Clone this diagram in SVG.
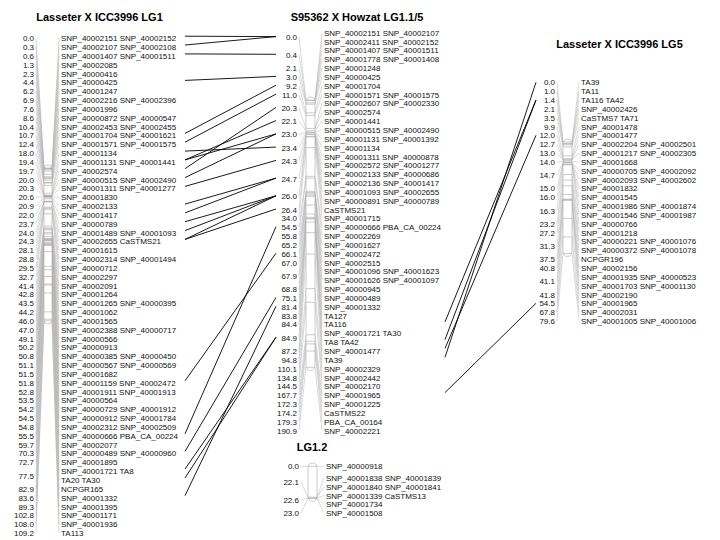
<svg xmlns="http://www.w3.org/2000/svg" width="720" height="540" viewBox="0 0 720 540">
<style>
text{font-family:"Liberation Sans",Arial,sans-serif;font-size:8px;fill:#111}
.p{text-anchor:end}
.h{font-weight:bold;font-size:11px;text-anchor:middle;fill:#000}
.fan{stroke:#b4b4b4;stroke-width:0.5;fill:none}
.bar{stroke:#aaaaaa;stroke-width:0.6;fill:#fff}
.tick{stroke:#999999;stroke-width:0.5;fill:none}
.conn{stroke:#000;stroke-width:0.9;fill:none}
</style>
<rect width="720" height="540" fill="#fff"/>

<g id="lg1-lasseter">
<text class="h" x="99.5" y="21">Lasseter X ICC3996 LG1</text>
<path class="fan" d="M36 38.2L44 168M36 47L44 168.4M36 55.9L44 168.8M36 64.7L44 169.8M36 73.5L44 171.2M36 82.4L44 174.2M36 91.2L44 176.7M36 100L44 177.7M36 108.9L44 178.6M36 117.7L44 180M36 126.6L44 182.6M36 135.4L44 183M36 144.2L44 185.4M36 153.1L44 193.2M36 161.9L44 195.2M36 170.7L44 195.6M36 179.6L44 196M36 188.4L44 196.4M36 197.2L44 196.8M36 206.1L44 197.3M36 214.9L44 198.8M36 223.7L44 201.2M36 232.6L44 201.6M36 241.4L44 202M36 250.2L44 207.3M36 259.1L44 208.3M36 267.9L44 209.3M36 276.7L44 213.8M36 285.6L44 226M36 294.4L44 227.9M36 303.3L44 228.9M36 312.1L44 229.9M36 320.9L44 232.4M36 329.8L44 233.8M36 338.6L44 236.7M36 347.4L44 238.3M36 356.3L44 239.1M36 365.1L44 239.5M36 373.9L44 240.1M36 382.8L44 240.5M36 391.6L44 241.9M36 400.4L44 242.9M36 409.3L44 243.9M36 418.1L44 244.3M36 426.9L44 244.7M36 435.8L44 245.7M36 444.6L44 251.6M36 453.4L44 266.4M36 462.3L44 269.8M36 475.6L44 276.5M36 488.8L44 284.1M36 497.6L44 285M36 506.5L44 293M36 515.3L44 311.9M36 524.1L44 319.2M36 533L44 320.9"/>
<path class="fan" d="M52 168L59 38.2M52 168.4L59 47M52 168.8L59 55.9M52 169.8L59 64.7M52 171.2L59 73.5M52 174.2L59 82.4M52 176.7L59 91.2M52 177.7L59 100M52 178.6L59 108.9M52 180L59 117.7M52 182.6L59 126.6M52 183L59 135.4M52 185.4L59 144.2M52 193.2L59 153.1M52 195.2L59 161.9M52 195.6L59 170.7M52 196L59 179.6M52 196.4L59 188.4M52 196.8L59 197.2M52 197.3L59 206.1M52 198.8L59 214.9M52 201.2L59 223.7M52 201.6L59 232.6M52 202L59 241.4M52 207.3L59 250.2M52 208.3L59 259.1M52 209.3L59 267.9M52 213.8L59 276.7M52 226L59 285.6M52 227.9L59 294.4M52 228.9L59 303.3M52 229.9L59 312.1M52 232.4L59 320.9M52 233.8L59 329.8M52 236.7L59 338.6M52 238.3L59 347.4M52 239.1L59 356.3M52 239.5L59 365.1M52 240.1L59 373.9M52 240.5L59 382.8M52 241.9L59 391.6M52 242.9L59 400.4M52 243.9L59 409.3M52 244.3L59 418.1M52 244.7L59 426.9M52 245.7L59 435.8M52 251.6L59 444.6M52 266.4L59 453.4M52 269.8L59 462.3M52 276.5L59 471.1M52 276.5L59 480M52 284.1L59 488.8M52 285L59 497.6M52 293L59 506.5M52 311.9L59 515.3M52 319.2L59 524.1M52 320.9L59 533"/>
<rect class="bar" x="44" y="165" width="8" height="159" rx="4"/>
<path class="tick" d="M44 168H52M44 168.4H52M44 168.8H52M44 169.8H52M44 171.2H52M44 174.2H52M44 176.7H52M44 177.7H52M44 178.6H52M44 180H52M44 182.6H52M44 183H52M44 185.4H52M44 193.2H52M44 195.2H52M44 195.6H52M44 196H52M44 196.4H52M44 196.8H52M44 197.3H52M44 198.8H52M44 201.2H52M44 201.6H52M44 202H52M44 207.3H52M44 208.3H52M44 209.3H52M44 213.8H52M44 226H52M44 227.9H52M44 228.9H52M44 229.9H52M44 232.4H52M44 233.8H52M44 236.7H52M44 238.3H52M44 239.1H52M44 239.5H52M44 240.1H52M44 240.5H52M44 241.9H52M44 242.9H52M44 243.9H52M44 244.3H52M44 244.7H52M44 245.7H52M44 251.6H52M44 266.4H52M44 269.8H52M44 276.5H52M44 284.1H52M44 285H52M44 293H52M44 311.9H52M44 319.2H52M44 320.9H52"/>
<text class="p" x="34" y="41.2">0.0</text>
<text class="p" x="34" y="50">0.3</text>
<text class="p" x="34" y="58.9">0.6</text>
<text class="p" x="34" y="67.7">1.3</text>
<text class="p" x="34" y="76.5">2.3</text>
<text class="p" x="34" y="85.4">4.4</text>
<text class="p" x="34" y="94.2">6.2</text>
<text class="p" x="34" y="103">6.9</text>
<text class="p" x="34" y="111.9">7.6</text>
<text class="p" x="34" y="120.7">8.6</text>
<text class="p" x="34" y="129.6">10.4</text>
<text class="p" x="34" y="138.4">10.7</text>
<text class="p" x="34" y="147.2">12.4</text>
<text class="p" x="34" y="156.1">18.0</text>
<text class="p" x="34" y="164.9">19.4</text>
<text class="p" x="34" y="173.7">19.7</text>
<text class="p" x="34" y="182.6">20.0</text>
<text class="p" x="34" y="191.4">20.3</text>
<text class="p" x="34" y="200.2">20.6</text>
<text class="p" x="34" y="209.1">20.9</text>
<text class="p" x="34" y="217.9">22.0</text>
<text class="p" x="34" y="226.7">23.7</text>
<text class="p" x="34" y="235.6">24.0</text>
<text class="p" x="34" y="244.4">24.3</text>
<text class="p" x="34" y="253.2">28.1</text>
<text class="p" x="34" y="262.1">28.8</text>
<text class="p" x="34" y="270.9">29.5</text>
<text class="p" x="34" y="279.7">32.7</text>
<text class="p" x="34" y="288.6">41.4</text>
<text class="p" x="34" y="297.4">42.8</text>
<text class="p" x="34" y="306.3">43.5</text>
<text class="p" x="34" y="315.1">44.2</text>
<text class="p" x="34" y="323.9">46.0</text>
<text class="p" x="34" y="332.8">47.0</text>
<text class="p" x="34" y="341.6">49.1</text>
<text class="p" x="34" y="350.4">50.2</text>
<text class="p" x="34" y="359.3">50.8</text>
<text class="p" x="34" y="368.1">51.1</text>
<text class="p" x="34" y="376.9">51.5</text>
<text class="p" x="34" y="385.8">51.8</text>
<text class="p" x="34" y="394.6">52.8</text>
<text class="p" x="34" y="403.4">53.5</text>
<text class="p" x="34" y="412.3">54.2</text>
<text class="p" x="34" y="421.1">54.5</text>
<text class="p" x="34" y="429.9">54.8</text>
<text class="p" x="34" y="438.8">55.5</text>
<text class="p" x="34" y="447.6">59.7</text>
<text class="p" x="34" y="456.4">70.3</text>
<text class="p" x="34" y="465.3">72.7</text>
<text class="p" x="34" y="478.6">77.5</text>
<text class="p" x="34" y="491.8">82.9</text>
<text class="p" x="34" y="500.6">83.6</text>
<text class="p" x="34" y="509.5">89.3</text>
<text class="p" x="34" y="518.3">102.8</text>
<text class="p" x="34" y="527.1">108.0</text>
<text class="p" x="34" y="536">109.2</text>
<text x="61" y="41.2">SNP_40002151 SNP_40002152</text>
<text x="61" y="50">SNP_40002107 SNP_40002108</text>
<text x="61" y="58.9">SNP_40001407 SNP_40001511</text>
<text x="61" y="67.7">SNP_40002085</text>
<text x="61" y="76.5">SNP_40000416</text>
<text x="61" y="85.4">SNP_40000425</text>
<text x="61" y="94.2">SNP_40001247</text>
<text x="61" y="103">SNP_40002216 SNP_40002396</text>
<text x="61" y="111.9">SNP_40001996</text>
<text x="61" y="120.7">SNP_40000872 SNP_40000547</text>
<text x="61" y="129.6">SNP_40002453 SNP_40002455</text>
<text x="61" y="138.4">SNP_40001704 SNP_40001621</text>
<text x="61" y="147.2">SNP_40001571 SNP_40001575</text>
<text x="61" y="156.1">SNP_40001134</text>
<text x="61" y="164.9">SNP_40001131 SNP_40001441</text>
<text x="61" y="173.7">SNP_40002574</text>
<text x="61" y="182.6">SNP_40000515 SNP_40002490</text>
<text x="61" y="191.4">SNP_40001311 SNP_40001277</text>
<text x="61" y="200.2">SNP_40001830</text>
<text x="61" y="209.1">SNP_40002133</text>
<text x="61" y="217.9">SNP_40001417</text>
<text x="61" y="226.7">SNP_40000789</text>
<text x="61" y="235.6">SNP_40001489 SNP_40001093</text>
<text x="61" y="244.4">SNP_40002655 CaSTMS21</text>
<text x="61" y="253.2">SNP_40001615</text>
<text x="61" y="262.1">SNP_40002314 SNP_40001494</text>
<text x="61" y="270.9">SNP_40000712</text>
<text x="61" y="279.7">SNP_40002297</text>
<text x="61" y="288.6">SNP_40002091</text>
<text x="61" y="297.4">SNP_40001264</text>
<text x="61" y="306.3">SNP_40001265 SNP_40000395</text>
<text x="61" y="315.1">SNP_40001062</text>
<text x="61" y="323.9">SNP_40001565</text>
<text x="61" y="332.8">SNP_40002388 SNP_40000717</text>
<text x="61" y="341.6">SNP_40000566</text>
<text x="61" y="350.4">SNP_40000913</text>
<text x="61" y="359.3">SNP_40000385 SNP_40000450</text>
<text x="61" y="368.1">SNP_40000567 SNP_40000569</text>
<text x="61" y="376.9">SNP_40001682</text>
<text x="61" y="385.8">SNP_40001159 SNP_40002472</text>
<text x="61" y="394.6">SNP_40001911 SNP_40001913</text>
<text x="61" y="403.4">SNP_40000564</text>
<text x="61" y="412.3">SNP_40000729 SNP_40001912</text>
<text x="61" y="421.1">SNP_40000912 SNP_40001784</text>
<text x="61" y="429.9">SNP_40002312 SNP_40002509</text>
<text x="61" y="438.8">SNP_40000666 PBA_CA_00224</text>
<text x="61" y="447.6">SNP_40002077</text>
<text x="61" y="456.4">SNP_40000489 SNP_40000960</text>
<text x="61" y="465.3">SNP_40001895</text>
<text x="61" y="474.1">SNP_40001721 TA8</text>
<text x="61" y="483">TA20 TA30</text>
<text x="61" y="491.8">NCPGR165</text>
<text x="61" y="500.6">SNP_40001332</text>
<text x="61" y="509.5">SNP_40001395</text>
<text x="61" y="518.3">SNP_40001171</text>
<text x="61" y="527.1">SNP_40001936</text>
<text x="61" y="536">TA113</text>
</g>

<g id="lg1-howzat">
<text class="h" x="357" y="20.5">S95362 X Howzat LG1.1/5</text>
<path class="fan" d="M299 37.1L306 100M299 54.8L306 100.6M299 68.1L306 102.9M299 76.9L306 104.2M299 85.7L306 112.9M299 94.6L306 115.4M299 107.9L306 128.4M299 121.1L306 130.9M299 134.4L306 132.2M299 147.6L306 132.8M299 160.9L306 134M299 178.6L306 134.6M299 196.3L306 136.4M299 209.5L306 137M299 218.3L306 147.6M299 227.2L306 176.3M299 236L306 178.1M299 244.9L306 191.3M299 253.7L306 192.5M299 262.5L306 193.8M299 275.8L306 195.1M299 289.1L306 196.3M299 297.9L306 205.1M299 306.7L306 214M299 315.6L306 217.3M299 324.4L306 218.2M299 337.7L306 218.9M299 350.9L306 222.1M299 359.8L306 232.7M299 368.6L306 254.1M299 377.5L306 288.7M299 386.3L306 302.3M299 395.1L306 334.8M299 404L306 341.2M299 412.8L306 343.9M299 421.7L306 351M299 430.5L306 367.3"/>
<path class="fan" d="M315 100L322 32.7M315 100L322 41.5M315 100.6L322 50.4M315 100.6L322 59.2M315 102.9L322 68.1M315 104.2L322 76.9M315 112.9L322 85.7M315 115.4L322 94.6M315 128.4L322 103.4M315 128.4L322 112.3M315 130.9L322 121.1M315 132.2L322 129.9M315 132.2L322 138.8M315 132.8L322 147.6M315 134L322 156.5M315 134L322 165.3M315 134.6L322 174.1M315 134.6L322 183M315 136.4L322 191.8M315 136.4L322 200.7M315 137L322 209.5M315 147.6L322 218.3M315 176.3L322 227.2M315 178.1L322 236M315 191.3L322 244.9M315 192.5L322 253.7M315 193.8L322 262.5M315 195.1L322 271.4M315 195.1L322 280.2M315 196.3L322 289.1M315 205.1L322 297.9M315 214L322 306.7M315 217.3L322 315.6M315 218.2L322 324.4M315 218.9L322 333.3M315 218.9L322 342.1M315 222.1L322 350.9M315 232.7L322 359.8M315 254.1L322 368.6M315 288.7L322 377.5M315 302.3L322 386.3M315 334.8L322 395.1M315 341.2L322 404M315 343.9L322 412.8M315 351L322 421.7M315 367.3L322 430.5"/>
<rect class="bar" x="306" y="97" width="9" height="273.5" rx="4.5"/>
<path class="tick" d="M306 100H315M306 100.6H315M306 102.9H315M306 104.2H315M306 112.9H315M306 115.4H315M306 128.4H315M306 130.9H315M306 132.2H315M306 132.8H315M306 134H315M306 134.6H315M306 136.4H315M306 137H315M306 147.6H315M306 176.3H315M306 178.1H315M306 191.3H315M306 192.5H315M306 193.8H315M306 195.1H315M306 196.3H315M306 205.1H315M306 214H315M306 217.3H315M306 218.2H315M306 218.9H315M306 222.1H315M306 232.7H315M306 254.1H315M306 288.7H315M306 302.3H315M306 334.8H315M306 341.2H315M306 343.9H315M306 351H315M306 367.3H315"/>
<text class="p" x="297" y="40.1">0.0</text>
<text class="p" x="297" y="57.8">0.4</text>
<text class="p" x="297" y="71.1">2.1</text>
<text class="p" x="297" y="79.9">3.0</text>
<text class="p" x="297" y="88.7">9.2</text>
<text class="p" x="297" y="97.6">11.0</text>
<text class="p" x="297" y="110.9">20.3</text>
<text class="p" x="297" y="124.1">22.1</text>
<text class="p" x="297" y="137.4">23.0</text>
<text class="p" x="297" y="150.6">23.4</text>
<text class="p" x="297" y="163.9">24.3</text>
<text class="p" x="297" y="181.6">24.7</text>
<text class="p" x="297" y="199.3">26.0</text>
<text class="p" x="297" y="212.5">26.4</text>
<text class="p" x="297" y="221.3">34.0</text>
<text class="p" x="297" y="230.2">54.5</text>
<text class="p" x="297" y="239">55.8</text>
<text class="p" x="297" y="247.9">65.2</text>
<text class="p" x="297" y="256.7">66.1</text>
<text class="p" x="297" y="265.5">67.0</text>
<text class="p" x="297" y="278.8">67.9</text>
<text class="p" x="297" y="292.1">68.8</text>
<text class="p" x="297" y="300.9">75.1</text>
<text class="p" x="297" y="309.7">81.4</text>
<text class="p" x="297" y="318.6">83.8</text>
<text class="p" x="297" y="327.4">84.4</text>
<text class="p" x="297" y="340.7">84.9</text>
<text class="p" x="297" y="353.9">87.2</text>
<text class="p" x="297" y="362.8">94.8</text>
<text class="p" x="297" y="371.6">110.1</text>
<text class="p" x="297" y="380.5">134.8</text>
<text class="p" x="297" y="389.3">144.5</text>
<text class="p" x="297" y="398.1">167.7</text>
<text class="p" x="297" y="407">172.3</text>
<text class="p" x="297" y="415.8">174.2</text>
<text class="p" x="297" y="424.7">179.3</text>
<text class="p" x="297" y="433.5">190.9</text>
<text x="324" y="35.7">SNP_40002151 SNP_40002107</text>
<text x="324" y="44.5">SNP_40002411 SNP_40002152</text>
<text x="324" y="53.4">SNP_40001407 SNP_40001511</text>
<text x="324" y="62.2">SNP_40001778 SNP_40001408</text>
<text x="324" y="71.1">SNP_40001248</text>
<text x="324" y="79.9">SNP_40000425</text>
<text x="324" y="88.7">SNP_40001704</text>
<text x="324" y="97.6">SNP_40001571 SNP_40001575</text>
<text x="324" y="106.4">SNP_40002607 SNP_40002330</text>
<text x="324" y="115.3">SNP_40002574</text>
<text x="324" y="124.1">SNP_40001441</text>
<text x="324" y="132.9">SNP_40000515 SNP_40002490</text>
<text x="324" y="141.8">SNP_40001131 SNP_40001392</text>
<text x="324" y="150.6">SNP_40001134</text>
<text x="324" y="159.5">SNP_40001311 SNP_40000878</text>
<text x="324" y="168.3">SNP_40002572 SNP_40001277</text>
<text x="324" y="177.1">SNP_40002133 SNP_40000686</text>
<text x="324" y="186">SNP_40002136 SNP_40001417</text>
<text x="324" y="194.8">SNP_40001093 SNP_40002655</text>
<text x="324" y="203.7">SNP_40000891 SNP_40000789</text>
<text x="324" y="212.5">CaSTMS21</text>
<text x="324" y="221.3">SNP_40001715</text>
<text x="324" y="230.2">SNP_40000666 PBA_CA_00224</text>
<text x="324" y="239">SNP_40002269</text>
<text x="324" y="247.9">SNP_40001627</text>
<text x="324" y="256.7">SNP_40002472</text>
<text x="324" y="265.5">SNP_40002515</text>
<text x="324" y="274.4">SNP_40001096 SNP_40001623</text>
<text x="324" y="283.2">SNP_40001626 SNP_40001097</text>
<text x="324" y="292.1">SNP_40000945</text>
<text x="324" y="300.9">SNP_40000489</text>
<text x="324" y="309.7">SNP_40001332</text>
<text x="324" y="318.6">TA127</text>
<text x="324" y="327.4">TA116</text>
<text x="324" y="336.3">SNP_40001721 TA30</text>
<text x="324" y="345.1">TA8 TA42</text>
<text x="324" y="353.9">SNP_40001477</text>
<text x="324" y="362.8">TA39</text>
<text x="324" y="371.6">SNP_40002329</text>
<text x="324" y="380.5">SNP_40002442</text>
<text x="324" y="389.3">SNP_40002170</text>
<text x="324" y="398.1">SNP_40001965</text>
<text x="324" y="407">SNP_40001225</text>
<text x="324" y="415.8">CaSTMS22</text>
<text x="324" y="424.7">PBA_CA_00164</text>
<text x="324" y="433.5">SNP_40002221</text>
</g>

<g id="lg1-2">
<text class="h" x="312" y="450.5">LG1.2</text>
<path class="fan" d="M301 466.3L308 466.3M301 482.2L308 497.2M301 500L308 497.9M301 513.2L308 498.5"/>
<path class="fan" d="M317 466.3L324 466.3M317 497.2L324 477.8M317 497.2L324 486.7M317 497.9L324 495.5M317 497.9L324 504.4M317 498.5L324 513.2"/>
<rect class="bar" x="308" y="463" width="9" height="38.5" rx="4.5"/>
<path class="tick" d="M308 466.3H317M308 497.2H317M308 497.9H317M308 498.5H317"/>
<text class="p" x="299" y="469.3">0.0</text>
<text class="p" x="299" y="485.2">22.1</text>
<text class="p" x="299" y="503">22.6</text>
<text class="p" x="299" y="516.2">23.0</text>
<text x="326" y="469.3">SNP_40000918</text>
<text x="326" y="480.8">SNP_40001838 SNP_40001839</text>
<text x="326" y="489.7">SNP_40001840 SNP_40001841</text>
<text x="326" y="498.5">SNP_40001339 CaSTMS13</text>
<text x="326" y="507.4">SNP_40001734</text>
<text x="326" y="516.2">SNP_40001508</text>
</g>

<g id="lg5-lasseter">
<text class="h" x="619.5" y="48.3">Lasseter X ICC3996 LG5</text>
<path class="fan" d="M557 82.3L563 142M557 91.1L563 143.4M557 100L563 144M557 108.8L563 144.9M557 117.7L563 146.9M557 126.5L563 155.9M557 135.3L563 158.8M557 144.2L563 159.8M557 153L563 160.2M557 161.9L563 161.6M557 175.1L563 162.6M557 188.4L563 163M557 197.2L563 164.4M557 210.5L563 164.8M557 223.7L563 174.5M557 232.6L563 180.1M557 245.9L563 185.8M557 259.1L563 194.5M557 267.9L563 199.1M557 281.2L563 199.5M557 294.5L563 200.5M557 303.3L563 218.3M557 312.1L563 236.9M557 321L563 253.4"/>
<path class="fan" d="M572 142L579 82.3M572 143.4L579 91.1M572 144L579 100M572 144.9L579 108.8M572 146.9L579 117.7M572 155.9L579 126.5M572 158.8L579 135.3M572 159.8L579 144.2M572 160.2L579 153M572 161.6L579 161.9M572 162.6L579 170.7M572 162.6L579 179.5M572 163L579 188.4M572 164.4L579 197.2M572 164.8L579 206.1M572 164.8L579 214.9M572 174.5L579 223.7M572 180.1L579 232.6M572 185.8L579 241.4M572 185.8L579 250.3M572 194.5L579 259.1M572 199.1L579 267.9M572 199.5L579 276.8M572 199.5L579 285.6M572 200.5L579 294.5M572 218.3L579 303.3M572 236.9L579 312.1M572 253.4L579 321"/>
<rect class="bar" x="563" y="139" width="9" height="117.4" rx="4.5"/>
<path class="tick" d="M563 142H572M563 143.4H572M563 144H572M563 144.9H572M563 146.9H572M563 155.9H572M563 158.8H572M563 159.8H572M563 160.2H572M563 161.6H572M563 162.6H572M563 163H572M563 164.4H572M563 164.8H572M563 174.5H572M563 180.1H572M563 185.8H572M563 194.5H572M563 199.1H572M563 199.5H572M563 200.5H572M563 218.3H572M563 236.9H572M563 253.4H572"/>
<text class="p" x="555" y="85.3">0.0</text>
<text class="p" x="555" y="94.1">1.0</text>
<text class="p" x="555" y="103">1.4</text>
<text class="p" x="555" y="111.8">2.1</text>
<text class="p" x="555" y="120.7">3.5</text>
<text class="p" x="555" y="129.5">9.9</text>
<text class="p" x="555" y="138.3">12.0</text>
<text class="p" x="555" y="147.2">12.7</text>
<text class="p" x="555" y="156">13.0</text>
<text class="p" x="555" y="164.9">14.0</text>
<text class="p" x="555" y="178.1">14.7</text>
<text class="p" x="555" y="191.4">15.0</text>
<text class="p" x="555" y="200.2">16.0</text>
<text class="p" x="555" y="213.5">16.3</text>
<text class="p" x="555" y="226.7">23.2</text>
<text class="p" x="555" y="235.6">27.2</text>
<text class="p" x="555" y="248.9">31.3</text>
<text class="p" x="555" y="262.1">37.5</text>
<text class="p" x="555" y="270.9">40.8</text>
<text class="p" x="555" y="284.2">41.1</text>
<text class="p" x="555" y="297.5">41.8</text>
<text class="p" x="555" y="306.3">54.5</text>
<text class="p" x="555" y="315.1">67.8</text>
<text class="p" x="555" y="324">79.6</text>
<text x="581" y="85.3">TA39</text>
<text x="581" y="94.1">TA11</text>
<text x="581" y="103">TA116 TA42</text>
<text x="581" y="111.8">SNP_40002426</text>
<text x="581" y="120.7">CaSTMS7 TA71</text>
<text x="581" y="129.5">SNP_40001478</text>
<text x="581" y="138.3">SNP_40001477</text>
<text x="581" y="147.2">SNP_40002204 SNP_40002501</text>
<text x="581" y="156">SNP_40001217 SNP_40002305</text>
<text x="581" y="164.9">SNP_40001668</text>
<text x="581" y="173.7">SNP_40000705 SNP_40002092</text>
<text x="581" y="182.5">SNP_40002093 SNP_40002602</text>
<text x="581" y="191.4">SNP_40001832</text>
<text x="581" y="200.2">SNP_40001545</text>
<text x="581" y="209.1">SNP_40001986 SNP_40001874</text>
<text x="581" y="217.9">SNP_40001546 SNP_40001987</text>
<text x="581" y="226.7">SNP_40000766</text>
<text x="581" y="235.6">SNP_40001218</text>
<text x="581" y="244.4">SNP_40000221 SNP_40001076</text>
<text x="581" y="253.3">SNP_40000372 SNP_40001078</text>
<text x="581" y="262.1">NCPGR196</text>
<text x="581" y="270.9">SNP_40002156</text>
<text x="581" y="279.8">SNP_40001935 SNP_40000523</text>
<text x="581" y="288.6">SNP_40001703 SNP_40001130</text>
<text x="581" y="297.5">SNP_40002190</text>
<text x="581" y="306.3">SNP_40001965</text>
<text x="581" y="315.1">SNP_40002031</text>
<text x="581" y="324">SNP_40001005 SNP_40001006</text>
</g>

<g id="connectors">
<path class="conn" d="M185 36.2L276 36.6M185 45L276 36.6M185 53.9L276 54.3M185 80.4L276 76.4M185 133.4L276 85.2M185 142.2L276 94.1M185 151.1L276 147.1M185 159.9L276 120.6M185 159.9L276 133.9M185 168.7L276 107.4M185 177.6L276 133.9M185 186.4L276 160.4M185 204.1L276 178.1M185 212.9L276 178.1M185 221.7L276 195.8M185 230.6L276 195.8M185 239.4L276 195.8M185 239.4L276 209M185 380.8L276 253.2M185 433.8L276 226.7M185 451.4L276 297.4M185 469.1L276 337.2M185 478L276 337.2M185 495.6L276 306.2"/>
<path class="conn" d="M445 321.9L536 100M445 339.6L536 100M445 348.4L536 135.3M445 357.3L536 82.3M445 392.6L536 303.3"/>
</g>
</svg>
